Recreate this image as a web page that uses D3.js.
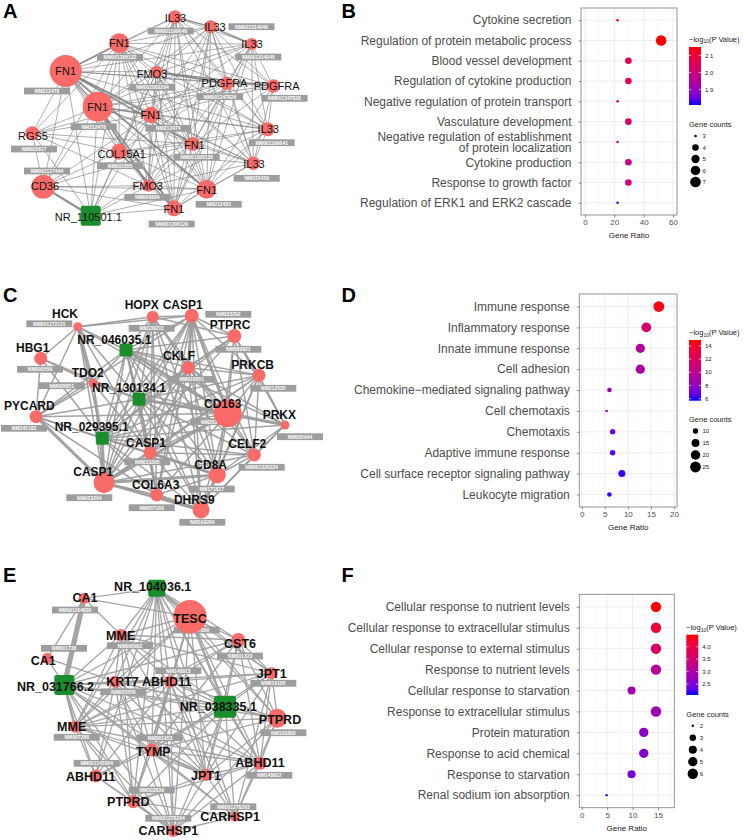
<!DOCTYPE html>
<html><head><meta charset="utf-8">
<script src="https://cdn.jsdelivr.net/npm/d3@7"></script>
<style>body{margin:0;background:#fff;} svg{display:block;font-family:"Liberation Sans",Arial,Helvetica,sans-serif;}</style>
</head><body><svg id="c" width="745" height="840"></svg>
<script>
// ---------------- NETWORK DATA ----------------
// [gene, transcript, x, y, size, labelX, labelY, boxX, boxY]  (layout units of each panel)
const nodesA = [
 ["IL33","NM001199640",175,17,6.7,175.5,18,170.7,31],
 ["IL33","NM001314046",210.7,26.7,6.5,215,27,251.5,26.7],
 ["IL33","NM001314045",251.7,44,6,252,44.5,258.3,57],
 ["FN1","NM001306132",119.3,43.3,10,119.3,43.5,120,57.3],
 ["FN1","NM212478",65.7,71,16,65.7,71.5,47,91],
 ["FMO3","NM001002294",156.5,72,6,152,74.5,152.3,87.3],
 ["PDGFRA","NM001347826",226.7,83.3,6.7,224.5,83.5,220,96.7],
 ["PDGFRA","NM001347828",273.3,86,6.7,276.7,86,284.5,98.3],
 ["FN1","NM212476",97.7,106.7,15,97.7,107,93.7,126.7],
 ["FN1","NM212474",151,115,8.3,151,115.5,168.3,128.3],
 ["RGS5","NM003617",32.3,133.3,7,33,136.5,34,149],
 ["IL33","NM001199641",267.7,129.3,7,268.3,129,271.7,142.7],
 ["FN1","NM001306130",192.7,144,7,194.3,145,196.7,157.3],
 ["COL15A1","NM001855",119,151.7,8,121.7,154,120,165.7],
 ["IL33","NM033439",253.3,163.3,6.7,254,164.5,256.7,178.3],
 ["CD36","NM001127444",43.3,186.7,12,45,186.5,47,171],
 ["FMO3","NM006894",148.3,185.7,6,147.7,186,147.3,197.3],
 ["FN1","NM212482",206.7,189.3,9.5,206.7,190.5,218.7,204.3],
 ["FN1","NM001306129",174,208.3,8,174,209.5,171.7,224],
 ["NR_110501.1","",90.7,215.7,20,88.3,217,null,null]
];
const edgesA = [
 "0>1*2,2,3,4,5,6,7,8,9,11,12,13,14,16,17,18",
 "1>2*2,3,4,5,6,7,8,9,11,12,14,16,17,18",
 "2>3,4,5,6,7,8,9,11,12,14,17,18",
 "3>4*2,5,6,7,8,9,10,11,12,13,14,15,16,17,18,19",
 "4>5,6,7,8*2,9*2.5,10,11,12*2.5,13,14,15,16,17*2.5,18,19",
 "5>6*2.5,7*2,8,9,11,12,13,14,16,17,18,19",
 "6>7,8,9,10,11,12,13,14,16,17,18",
 "7>8,9,11,12,14,17",
 "8>9*2,10,11,12,13,14,15,16*2.5,17,18*2.5,19",
 "9>10,11,12,13,14,15,16,17,18,19",
 "10>12,13,15,16,19",
 "11>12,13,14,16,17,18",
 "12>13,14,15,16,17,18,19",
 "13>14,15,16,17,18*2,19",
 "14>16,17,18",
 "15>16,17,18,19*3",
 "16>17,18,19",
 "17>18,19",
 "18>19"
];

const nodesC = [
 ["HCK","NM001172131",77.7,56.7,4.5,65,43.5,49.3,53.8],
 ["HOPX","NM139211",152.7,46.7,6,141.7,35,151.7,58.3],
 ["CASP1","NM033292",191.7,45.7,7,182.7,35,228.3,44.3],
 ["PTPRC","NM080921",234.3,66,7,230,55,238.3,79.3],
 ["NR_046035.1","",126,80,13,114.3,69.3,null,null],
 ["HBG1","NM000559",40.7,88.3,6.5,32.7,77.2,40,99.3],
 ["CKLF","NM016951",188.3,97.7,6.5,179,86,191.7,109.3],
 ["PRKCB","NM212535",259,105.3,6.5,252.7,95,273.3,118.3],
 ["TDO2","NM005651",93.3,113.3,4.5,87.7,102.3,61.7,115.7],
 ["NR_130134.1","",139,129.3,13,129,117.3,null,null],
 ["CD163","NM203416",227.7,143.3,14,222.7,133.3,213.3,151.7],
 ["PYCARD","NM145182",36,146.7,6.5,29.3,136,24,158.3],
 ["PRKX","NM005044",285,155,4.5,279.3,144.3,300,166.7],
 ["NR_029395.1","",102.3,168.3,13,91.7,156.7,null,null],
 ["CASP1","NM033295",150,182.7,6.5,146,172.3,147.3,191.7],
 ["CELF2","NM001326334",254.3,185,6.5,247.3,174,261.7,197.3],
 ["CASP1","NM033294",104,212.7,10.5,93.3,201.7,89.3,227.7],
 ["CD8A","NM171827",217.3,205,8.5,210.7,194.3,211.7,219],
 ["COL6A3","NM057166",156.7,225,6.5,155.7,214.3,151.7,237.7],
 ["DHRS9","NM199204",201,240,8.5,194.3,229.3,202.3,252.3]
];
const edgesC = [
 "0>1,2,4,5,8*2,9,10,11,13,14,16",
 "1>2,3,4,6,9,10,13,14,16,17,18,19",
 "2>3,4,6*2,7,9,10*2,11,13,14,15,16,17,18,19",
 "3>4,6,7,9,10,12,13,15,16,17",
 "4>6,7,8,9,10*2,11,12,13,14,15,16,17,18,19",
 "5>8,9,11,13",
 "6>7,9,10,12,13,14,15,16,17,18,19",
 "7>9,10,12,13,14,15,16,17,19",
 "8>9,10,11,13,14,16",
 "9>10*2,11,12,13,14,15,16,17,18,19",
 "10>11,12*2,13,14,15,16*2,17,18,19",
 "11>13,14,16*2,18",
 "12>13,15,17,19",
 "13>14,15,16*2,17,18,19",
 "14>15,16,17*2,18,19",
 "15>16,17,19",
 "16>17*2,18,19*2",
 "17>18,19*2",
 "18>19*2"
];

const nodesE = [
 ["NR_104036.1","",156.7,38.3,17,152.7,36,null,null],
 ["CA1","NM001164830",84,48.3,5.5,85,47.7,75,60],
 ["TESC","NM017899",190,66.7,16.7,190,68.3,196.7,80],
 ["MME","NM000902",120.7,85,6,120.7,85,130,95.7],
 ["CST6","NM001323",238.3,90,7,240,93.3,240,106],
 ["CA1","NM001738",47.3,108.3,5.5,43.3,110,64,98.3],
 ["NR_031766.2","",64.3,135,20,55.5,136.7,null,null],
 ["KRT7","NM005556",115,131.7,6,122.5,131,123.3,141.8],
 ["ABHD11","NM148913",170,131.7,6,166.7,131.7,178.3,120.7],
 ["JPT1","NM016185",271.7,123.3,6,271.7,123.3,273.3,133.3],
 ["NR_038335.1","",225,156.7,22,218.3,156.7,null,null],
 ["PTPRD","NM130393",277.3,168.3,9.5,280,169,283.3,182.7],
 ["MME","NM007288",75,176.7,6,71.7,176.7,76.7,187.3],
 ["TYMP","NM001953",151.7,200,6.5,153.3,201,160,187.7],
 ["ABHD11","NM148912",260,213.3,6.5,260,212.3,269.3,225.3],
 ["ABHD11","NM001145364",95.7,226,6.5,90.7,226.7,96.7,213.3],
 ["JPT1","",206,225,6,206,225.7,null,null],
 ["PTPRD","NM002839",133.3,251.7,6.5,128.3,251.7,151.7,240],
 ["CARHSP1","NM001278263",235,266.7,5,230,266.7,233.3,256.7],
 ["CARHSP1","NM001278264",173.3,281,6,168.3,280,168.3,268.3]
];
const edgesE = [
 "0>1,2*2,3,4,7,8,9,10,11,12,13,14,15,16,17,18,19",
 "1>2,3,5,6*4",
 "2>3,4,6,7,8,9,10*2,11,12,13,14,16,17,19",
 "3>4,6,7,8,9,10,12,13,16,17",
 "4>6,8,9,10,11,12,13,14,16",
 "5>6,7",
 "6>7,8,9,10,11,12*2,13,14,15,16,17,18,19",
 "7>8,10,11,12,13,14,15,16,17,19",
 "8>9,10,11,12,13,14,15,16,17,18,19",
 "9>10,11,12,13,14,16,18",
 "10>11,12,13,14,15,16,17,18,19",
 "11>12,13,14,16,18,19",
 "12>13,14,15,16,17,19",
 "13>14,15,16*2,17,18,19",
 "14>16,17,18,19",
 "15>17,19",
 "16>17,18,19",
 "17>18,19*2",
 "18>19"
];

// ---------------- ENRICHMENT DATA ----------------
const bTerms = ["Cytokine secretion","Regulation of protein metabolic process","Blood vessel development","Regulation of cytokine production","Negative regulation of protein transport","Vasculature development","Negative regulation of establishment\nof protein localization","Cytokine production","Response to growth factor","Regulation of ERK1 and ERK2 cascade"];
const bRatio = [22.2,51.9,29.6,29.6,22.2,29.6,22.2,29.6,29.6,22.2];
const bCount = [3,7,4,4,3,4,3,4,4,3];
const bLogP = [2.12,2.15,2.06,2.06,2.08,2.03,2.02,1.99,2.0,1.82];
const bRatioTicks = [0,20,40,60];
const bColorTicks = [1.9,2.0,2.1];
const bCountTicks = [3,4,5,6,7];

const dTerms = ["Immune response","Inflammatory response","Innate immune response","Cell adhesion","Chemokine\u2212mediated signaling pathway","Cell chemotaxis","Chemotaxis","Adaptive immune response","Cell surface receptor signaling pathway","Leukocyte migration"];
const dRatio = [16.7,14.0,12.7,12.7,6.0,5.4,6.7,6.7,8.7,6.0];
const dCount = [25,21,19,19,9,8,10,10,13,9];
const dLogP = [14.6,11.6,9.6,9.1,8.2,7.9,7.2,6.6,6.0,6.0];
const dRatioTicks = [0,5,10,15,20];
const dColorTicks = [6,8,10,12,14];
const dCountTicks = [10,15,20,25];

const fTerms = ["Cellular response to nutrient levels","Cellular response to extracellular stimulus","Cellular response to external stimulus","Response to nutrient levels","Cellular response to starvation","Response to extracellular stimulus","Protein maturation","Response to acid chemical","Response to starvation","Renal sodium ion absorption"];
const fRatio = [14.6,14.6,14.6,14.6,9.8,14.6,12.2,12.2,9.8,4.9];
const fCount = [6,6,6,6,4,6,5,5,4,2];
const fLogP = [4.45,4.1,3.65,3.1,2.85,2.8,2.6,2.55,2.45,2.08];
const fRatioTicks = [0,5,10,15];
const fColorTicks = [2.5,3.0,3.5,4.0];
const fCountTicks = [2,3,4,5,6];

// ---------------- DRAWING ----------------
const svg = d3.select("#c");

function parseEdges(lines){
  const out=[];
  lines.forEach(l=>{
    const [s,rest]=l.split(">");
    rest.split(",").forEach(t=>{
      const [j,w]=t.split("*");
      out.push({s:+s,t:+j,w:w?+w:1});
    });
  });
  return out;
}

function network(nodes, edgeLines, o){
  const g = svg.append("g");
  const x = d3.scaleLinear().domain([0,372]).range([0,372]);
  const y = d3.scaleLinear().domain([0,280]).range([o.y0,o.y0+280]);
  const edges = parseEdges(edgeLines);
  g.append("g").selectAll("line").data(edges).join("line")
    .attr("x1",d=>x(nodes[d.s][2])).attr("y1",d=>y(nodes[d.s][3]))
    .attr("x2",d=>x(nodes[d.t][2])).attr("y2",d=>y(nodes[d.t][3]))
    .attr("stroke",o.edgeColor).attr("stroke-opacity",o.edgeOpacity)
    .attr("stroke-width",d=>o.edgeBase*d.w);
  const bx = nodes.filter(d=>d[7]!=null && d[1]);
  const bg = g.append("g").selectAll("g").data(bx).join("g")
    .attr("transform",d=>`translate(${x(d[7])},${y(d[8])})`);
  bg.append("rect").attr("x",-23).attr("y",-3.4).attr("width",46).attr("height",6.8)
    .attr("fill","#9d9d9d");
  bg.append("text").text(d=>d[1]).attr("text-anchor","middle").attr("dy","0.36em")
    .attr("fill","#fff").attr("font-size",5).attr("font-weight","bold");
  const isNR = d=>d[0].startsWith("NR_");
  g.append("g").selectAll("circle").data(nodes.filter(d=>!isNR(d))).join("circle")
    .attr("cx",d=>x(d[2])).attr("cy",d=>y(d[3])).attr("r",d=>d[4]).attr("fill","#F96B69");
  g.append("g").selectAll("rect").data(nodes.filter(isNR)).join("rect")
    .attr("x",d=>x(d[2])-d[4]/2).attr("y",d=>y(d[3])-d[4]/2)
    .attr("width",d=>d[4]).attr("height",d=>d[4]).attr("rx",2).attr("fill","#1A8E2C");
  g.append("g").selectAll("text").data(nodes).join("text")
    .attr("x",d=>x(d[5])).attr("y",d=>y(d[6])).attr("dy","0.36em")
    .attr("text-anchor","middle").text(d=>d[0])
    .attr("font-size",o.font).attr("font-weight",o.weight).attr("fill","#111");
}

network(nodesA, edgesA, {y0:0, edgeColor:"#808080", edgeOpacity:0.85, edgeBase:0.75, font:11, weight:"normal"});
network(nodesC, edgesC, {y0:270, edgeColor:"#999", edgeOpacity:0.9, edgeBase:1.5, font:12, weight:"bold"});
network(nodesE, edgesE, {y0:550, edgeColor:"#a0a0a0", edgeOpacity:0.95, edgeBase:1.3, font:12.5, weight:"bold"});

function dotPlot(terms, ratio, count, logp, ratioTicks, colorTicks, countTicks, o){
  const g = svg.append("g");
  const x = d3.scaleLinear().domain(o.xDomain).range([o.bx0,o.bx1]);
  const y = d3.scalePoint().domain(terms).range([o.by0,o.by1]).padding(0.6);
  const col = d3.scaleLinear().domain(o.cDomain).range(["#0000ff","#ff0000"]).interpolate(d3.interpolateLab).clamp(true);
  const t = d3.scaleLinear().domain(d3.extent(count)).range([0,1]);
  const rr = d3.scaleSqrt().domain([0,1]).range(o.rRange);
  const r = v=>rr(t(v));
  // panel
  g.append("rect").attr("x",o.bx0).attr("y",o.by0).attr("width",o.bx1-o.bx0).attr("height",o.by1-o.by0).attr("fill","#fff");
  const minor = d3.range(ratioTicks.length-1).map(i=>(ratioTicks[i]+ratioTicks[i+1])/2)
     .concat([ratioTicks[ratioTicks.length-1]+(ratioTicks[1]-ratioTicks[0])/2]).filter(v=>x(v)<o.bx1);
  g.selectAll(".mn").data(minor).join("line").attr("x1",d=>x(d)).attr("x2",d=>x(d))
    .attr("y1",o.by0).attr("y2",o.by1).attr("stroke","#f2f2f2").attr("stroke-width",0.5);
  g.selectAll(".mj").data(ratioTicks).join("line").attr("x1",d=>x(d)).attr("x2",d=>x(d))
    .attr("y1",o.by0).attr("y2",o.by1).attr("stroke","#e8e8e8").attr("stroke-width",0.8);
  g.selectAll(".hy").data(terms).join("line").attr("y1",d=>y(d)).attr("y2",d=>y(d))
    .attr("x1",o.bx0).attr("x2",o.bx1).attr("stroke","#e8e8e8").attr("stroke-width",0.8);
  // points
  g.selectAll(".pt").data(terms).join("circle")
    .attr("cx",(d,i)=>x(ratio[i])).attr("cy",d=>y(d)).attr("r",(d,i)=>r(count[i]))
    .attr("fill",(d,i)=>col(logp[i]));
  g.append("rect").attr("x",o.bx0).attr("y",o.by0).attr("width",o.bx1-o.bx0).attr("height",o.by1-o.by0)
    .attr("fill","none").attr("stroke","#8a8a8a").attr("stroke-width",0.9);
  // y axis
  const ya = g.append("g").attr("transform",`translate(${o.bx0},0)`)
    .call(d3.axisLeft(y).tickSize(2.5).tickPadding(7).tickFormat(""));
  ya.select(".domain").remove();
  ya.selectAll("line").attr("stroke","#444").attr("stroke-width",0.6);
  terms.forEach(term=>{
    const lines = term.split("\n");
    const tx = g.append("text").attr("x",o.bx0-9.5).attr("y",y(term)).attr("text-anchor","end")
      .attr("font-size",12).attr("fill","#4d4d4d");
    lines.forEach((ln,k)=>{
      tx.append("tspan").attr("x",o.bx0-9.5)
        .attr("dy", k===0 ? ((0.36 - (lines.length-1)*0.44)+"em") : "0.88em").text(ln);
    });
  });
  // x axis
  const xa = g.append("g").attr("transform",`translate(0,${o.by1})`)
    .call(d3.axisBottom(x).tickValues(ratioTicks).tickSize(2.5).tickPadding(2).tickFormat(d3.format("d")));
  xa.select(".domain").remove();
  xa.selectAll("line").attr("stroke","#444").attr("stroke-width",0.6);
  xa.selectAll("text").attr("font-size",8).attr("fill","#4d4d4d").attr("font-family","Liberation Sans, Arial, sans-serif");
  g.append("text").attr("x",(o.bx0+o.bx1)/2).attr("y",o.by1+20).attr("dy","0.36em")
    .attr("text-anchor","middle").attr("font-size",8).attr("fill","#222").text("Gene Ratio");
  // color legend
  const lt = g.append("text").attr("x",o.lx).attr("y",o.ltY).attr("dy","0.36em").attr("font-size",7.5).attr("fill","#222");
  lt.append("tspan").text("\u2212log");
  lt.append("tspan").text("10").attr("font-size",5).attr("dy","1.5");
  lt.append("tspan").text("(P Value)").attr("dy","-1.5");
  const gid = "grad"+o.id;
  const grad = svg.append("defs").append("linearGradient").attr("id",gid)
    .attr("x1",0).attr("y1",1).attr("x2",0).attr("y2",0);
  d3.range(0,1.0001,0.1).forEach(s=>{
    grad.append("stop").attr("offset",s).attr("stop-color",col(o.cDomain[0]+s*(o.cDomain[1]-o.cDomain[0])));
  });
  g.append("rect").attr("x",o.lx).attr("y",o.cbY0).attr("width",12).attr("height",o.cbY1-o.cbY0).attr("fill",`url(#${gid})`);
  const cy = d3.scaleLinear().domain(o.cDomain).range([o.cbY1,o.cbY0]);
  colorTicks.forEach(v=>{
    g.append("line").attr("x1",o.lx).attr("x2",o.lx+2.4).attr("y1",cy(v)).attr("y2",cy(v)).attr("stroke","#fff").attr("stroke-width",0.6);
    g.append("line").attr("x1",o.lx+9.6).attr("x2",o.lx+12).attr("y1",cy(v)).attr("y2",cy(v)).attr("stroke","#fff").attr("stroke-width",0.6);
    g.append("text").attr("x",o.lx+16).attr("y",cy(v)).attr("dy","0.36em").attr("font-size",6).attr("fill","#222")
      .text(d3.format(o.cFmt)(v));
  });
  // size legend
  g.append("text").attr("x",o.lx).attr("y",o.gcY).attr("dy","0.36em").attr("font-size",7.5).attr("fill","#222").text("Gene counts");
  countTicks.forEach((v,i)=>{
    const yy = o.kY0 + i*o.kStep;
    g.append("circle").attr("cx",o.lx+6.5).attr("cy",yy).attr("r",r(v)).attr("fill","#000");
    g.append("text").attr("x",o.lx+13.5).attr("y",yy).attr("dy","0.36em").attr("font-size",6).attr("fill","#222").text(v);
  });
}

dotPlot(bTerms,bRatio,bCount,bLogP,bRatioTicks,bColorTicks,bCountTicks,
  {id:"B",bx0:581,bx1:677,by0:8,by1:215,xDomain:[-2.7,62.7],cDomain:[1.81,2.15],cFmt:".1f",rRange:[1.3,5.3],
   lx:689,ltY:39,cbY0:47,cbY1:105,gcY:124,kY0:136,kStep:11.5});
dotPlot(dTerms,dRatio,dCount,dLogP,dRatioTicks,dColorTicks,dCountTicks,
  {id:"D",bx0:579.3,bx1:677,by0:294,by1:507,xDomain:[-0.52,20.64],cDomain:[5.7,14.9],cFmt:"d",rRange:[1.3,5.4],
   lx:689,ltY:332.7,cbY0:340,cbY1:400.7,gcY:419,kY0:431,kStep:12});
dotPlot(fTerms,fRatio,fCount,fLogP,fRatioTicks,fColorTicks,fCountTicks,
  {id:"F",bx0:579.3,bx1:674.3,by0:594.3,by1:807.7,xDomain:[-0.47,18.2],cDomain:[2.06,4.48],cFmt:".1f",rRange:[1.2,5.2],
   lx:686.3,ltY:627.7,cbY0:634.7,cbY1:695,gcY:714.3,kY0:725.7,kStep:12});

// panel letters
const letters = [["A",3,17.5],["B",341.5,17.5],["C",3,301.5],["D",341.5,301.5],["E",3,581.5],["F",341.5,581.5]];
svg.selectAll(".lt").data(letters).join("text").attr("x",d=>d[1]).attr("y",d=>d[2])
  .attr("font-size",20).attr("font-weight","bold").attr("fill","#000").text(d=>d[0]);
</script></body></html>
